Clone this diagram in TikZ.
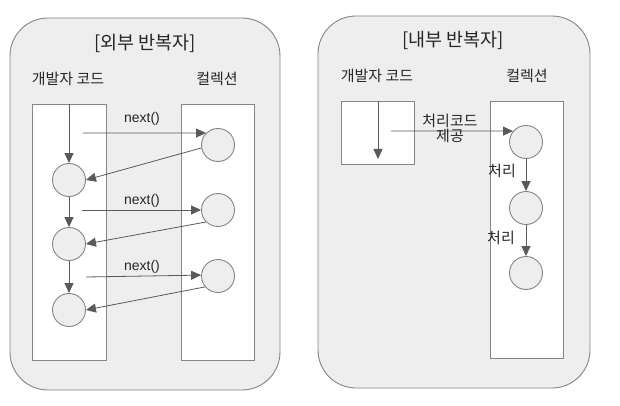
\documentclass[tikz,border=0pt]{standalone}
\usepackage{fontspec}
\setmainfont{Noto Sans CJK KR}
\newfontfamily\latinfont{Liberation Sans}
\usetikzlibrary{arrows.meta}
\definecolor{panelfill}{HTML}{EEEEEE}
\definecolor{linegray}{HTML}{858585}
\definecolor{arrowgray}{HTML}{5A5A5A}

\begin{document}
\begin{tikzpicture}[x=1pt,y=-1pt,
  panel/.style={draw=linegray,fill=panelfill,line width=0.9pt,rounded corners=38pt},
  lane/.style={draw=linegray,fill=white,line width=0.9pt},
  ball/.style={circle,draw=linegray,fill=panelfill,line width=0.9pt,minimum size=33pt,inner sep=0pt},
  flow/.style={draw=arrowgray,line width=0.8pt,-{Triangle[length=10pt,width=9pt]}},
  title/.style={font=\fontsize{18.5}{20}\selectfont,text=black!85},
  head/.style={font=\fontsize{15}{17}\selectfont,text=black!85},
  call/.style={font=\latinfont\fontsize{14}{16}\selectfont,text=black!85}]
\useasboundingbox (0,0) rectangle (620,406);

\draw [panel] (10,18) rectangle (280,390);
\node [title] (outtitle) at (145,43) {[외부 반복자]};
\node [head] (outdev) at (68,79) {개발자 코드};
\node [head] (outcol) at (217,79) {컬렉션};
\draw [lane] (32,104) rectangle (106,360);
\draw [lane] (181,104) rectangle (254,360);
\coordinate (outtop) at (69,104);
\node [ball] (l1) at (69,180) {};
\node [ball] (l2) at (69,244) {};
\node [ball] (l3) at (69,310) {};
\node [ball] (r1) at (218,145) {};
\node [ball] (r2) at (218,210) {};
\node [ball] (r3) at (218,276) {};
\coordinate (s1) at (83,133);
\coordinate (s2) at (82,210);
\coordinate (s3) at (86,277);
\draw [flow] (outtop) -- (l1);
\draw [flow] (l1) -- (l2);
\draw [flow] (l2) -- (l3);
\draw [flow] (s1) -- (r1.135);
\draw [flow] (s2) -- (r2.west);
\draw [flow] (s3) -- (r3.177);
\draw [flow] (r1.190) -- (l1.east);
\draw [flow] (r2.225) -- (l2.east);
\draw [flow] (r3.220) -- (l3.east);
\node [call] (n1) at (142,119) {next()};
\node [call] (n2) at (142,201) {next()};
\node [call] (n3) at (142,267) {next()};

\draw [panel] (318,16) rectangle (590,388);
\node [title] (intitle) at (453,40) {[내부 반복자]};
\node [head] (indev) at (377,76) {개발자 코드};
\node [head] (incol) at (527,76) {컬렉션};
\draw [lane] (341,101) rectangle (414,164);
\draw [lane] (490,101) rectangle (563,358);
\coordinate (intop) at (378,101);
\coordinate (inend) at (378,159);
\coordinate (give) at (391,131);
\node [ball] (i1) at (526,142) {};
\node [ball] (i2) at (526,208) {};
\node [ball] (i3) at (526,273) {};
\draw [flow] (intop) -- (inend);
\draw [flow] (give) -- (i1.140);
\draw [flow] (i1) -- (i2);
\draw [flow] (i2) -- (i3);
\node [head,align=center] (handoff) at (450,128) {처리코드\\[-2pt]제공};
\node [head] (step1) at (502,171) {처리};
\node [head] (step2) at (501,238) {처리};
\end{tikzpicture}
\end{document}
